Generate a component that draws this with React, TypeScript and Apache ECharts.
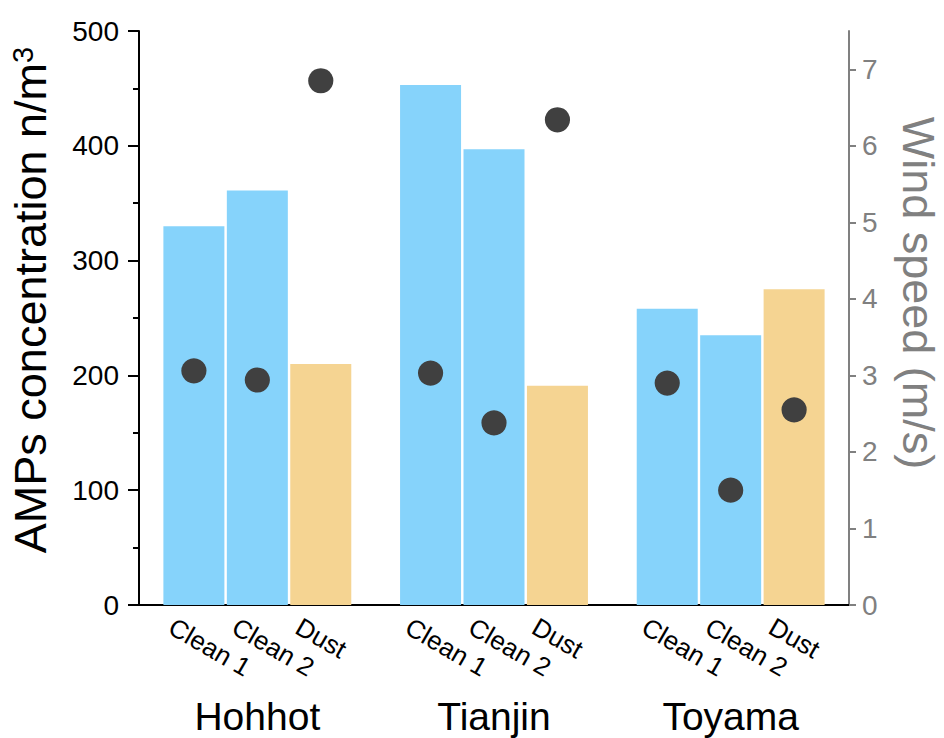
import React, { useEffect, useRef } from "react";
import * as echarts from "echarts";

// Sampling sites and sampling periods
const cities = ["Hohhot", "Tianjin", "Toyama"];
const periods = ["Clean 1", "Clean 2", "Dust"];

// AMPs concentration (n/m³) per period, one value per city
const clean1Conc = [330, 453, 258];
const clean2Conc = [361, 397, 235];
const dustConc = [210, 191, 275];

// Mean wind speed (m/s) per period, one value per city
const clean1Wind = [3.06, 3.03, 2.9];
const clean2Wind = [2.94, 2.38, 1.5];
const dustWind = [6.85, 6.34, 2.55];

// Right-axis tick values
const windTicks = [0, 1, 2, 3, 4, 5, 6, 7];

const FONT = "'Liberation Sans', Arial, sans-serif";
const BLUE = "#86D3FB";
const SAND = "#F5D492";
const DOT = "#404040";
const GREY = "#808080";
const BAR_W = 61;
const BAR_GAP = "4%";

export default function App() {
  const ref = useRef<HTMLDivElement>(null);

  useEffect(() => {
    if (!ref.current) return;
    const chart = echarts.init(ref.current, null, { renderer: "svg" });

    const concSets = [clean1Conc, clean2Conc, dustConc];
    const windSets = [clean1Wind, clean2Wind, dustWind];
    const colors = [BLUE, BLUE, SAND];

    const barSeries = periods.map((p, i) => ({
      name: p,
      type: "bar",
      xAxisIndex: 0,
      yAxisIndex: 0,
      data: concSets[i],
      barWidth: BAR_W,
      barGap: BAR_GAP,
      itemStyle: { color: colors[i] },
      label: {
        show: true,
        position: "bottom",
        distance: 4,
        rotate: -30,
        align: "left",
        verticalAlign: "middle",
        offset: [-12, 25],
        formatter: p,
        color: "#000",
        fontFamily: FONT,
        fontSize: 26,
      },
      z: 2,
    }));

    const dotSeries = periods.map((p, i) => ({
      name: p + " wind",
      type: "pictorialBar",
      xAxisIndex: 0,
      yAxisIndex: 1,
      data: windSets[i],
      barWidth: BAR_W,
      barGap: BAR_GAP,
      symbol: "circle",
      symbolSize: [25, 25],
      symbolPosition: "end",
      symbolOffset: [0, "-50%"],
      itemStyle: { color: DOT },
      z: 5,
    }));

    chart.setOption({
      animation: false,
      backgroundColor: "#fff",
      grid: {
        left: 139,
        right: 95,
        top: 31,
        bottom: 133,
        containLabel: false,
        outerBoundsMode: "none",
      },
      xAxis: [
        {
          type: "category",
          data: cities,
          position: "bottom",
          axisLine: { lineStyle: { color: "#000", width: 2 } },
          axisTick: { show: false },
          axisLabel: {
            margin: 92,
            color: "#000",
            fontFamily: FONT,
            fontSize: 39,
          },
        },
        {
          type: "category",
          data: cities,
          position: "top",
          axisLine: { lineStyle: { color: "#000", width: 2 } },
          axisTick: { show: false },
          axisLabel: { show: false },
        },
      ],
      yAxis: [
        {
          type: "value",
          min: 0,
          max: 500,
          interval: 100,
          position: "left",
          name: "AMPs concentration n/m{sup|3}",
          nameLocation: "middle",
          nameRotate: 90,
          nameGap: 86,
          nameTextStyle: {
            color: "#000",
            fontFamily: FONT,
            fontSize: 45,
            padding: [0, 0, 0, 36],
            rich: {
              sup: {
                fontFamily: FONT,
                fontSize: 29,
                color: "#000",
                verticalAlign: "top",
                padding: [0, 0, 14, 0],
              },
            },
          },
          axisLine: { show: true, lineStyle: { color: "#000", width: 2 } },
          axisTick: { show: true, inside: false, length: 11, lineStyle: { color: "#000", width: 2 } },
          minorTick: { show: true, splitNumber: 2, length: 6, lineStyle: { color: "#000", width: 2 } },
          splitLine: { show: false },
          axisLabel: {
            margin: 20,
            color: "#000",
            fontFamily: FONT,
            fontSize: 28,
          },
        },
        {
          type: "value",
          min: 0,
          max: 7.5,
          position: "right",
          name: "Wind speed (m/s)",
          nameLocation: "middle",
          nameRotate: -90,
          nameGap: 47,
          nameTextStyle: {
            color: GREY,
            fontFamily: FONT,
            fontSize: 45,
            padding: [0, 50, 0, 0],
          },
          axisLine: { show: true, lineStyle: { color: GREY, width: 2 } },
          axisTick: {
            show: true,
            inside: false,
            length: 7,
            customValues: windTicks,
            lineStyle: { color: GREY, width: 2 },
          },
          splitLine: { show: false },
          axisLabel: {
            margin: 13,
            color: GREY,
            fontFamily: FONT,
            fontSize: 28,
            customValues: windTicks,
          },
        },
      ],
      series: [...barSeries, ...dotSeries],
    });

    return () => chart.dispose();
  }, []);

  return (
    <div
      ref={ref}
      style={{ position: "fixed", left: 0, top: 0, width: 944, height: 738 }}
    />
  );
}
